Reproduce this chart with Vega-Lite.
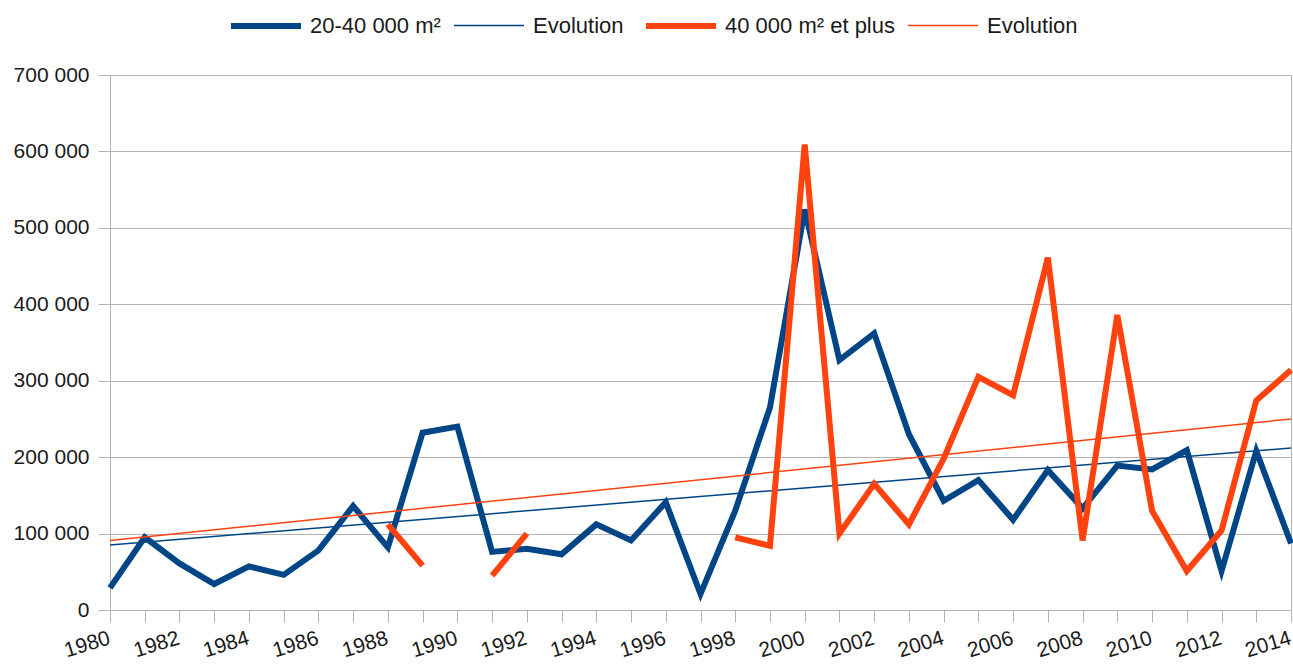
{
  "$schema": "https://vega.github.io/schema/vega-lite/v6.json",
  "width": 1181,
  "height": 535,
  "autosize": {"type": "none"},
  "padding": {"left": 110, "top": 75, "right": 2, "bottom": 54},
  "background": "white",
  "config": {
    "view": {"stroke": "#b3b3b3", "strokeWidth": 1},
    "font": "Liberation Sans",
    "axis": {
      "labelFont": "Liberation Sans",
      "labelFontSize": 21,
      "labelColor": "#1a1a1a",
      "domainColor": "#b3b3b3",
      "tickColor": "#b3b3b3",
      "gridColor": "#b3b3b3",
      "tickSize": 12,
      "title": null
    },
    "legend": {
      "orient": "none",
      "legendX": 118,
      "legendY": -87,
      "direction": "horizontal",
      "columns": 4,
      "padding": 0,
      "labelFont": "Liberation Sans",
      "labelFontSize": 22,
      "labelColor": "#1a1a1a",
      "labelOffset": 6,
      "columnPadding": 10,
      "symbolType": "stroke",
      "symbolSize": 4900,
      "labelLimit": 400,
      "title": null
    }
  },
  "data": {
    "values": [
      {"year": 1980, "series": "20-40 000 m²", "value": 29000},
      {"year": 1981, "series": "20-40 000 m²", "value": 95000},
      {"year": 1982, "series": "20-40 000 m²", "value": 61000},
      {"year": 1983, "series": "20-40 000 m²", "value": 34000},
      {"year": 1984, "series": "20-40 000 m²", "value": 57000},
      {"year": 1985, "series": "20-40 000 m²", "value": 46000},
      {"year": 1986, "series": "20-40 000 m²", "value": 78000},
      {"year": 1987, "series": "20-40 000 m²", "value": 136000},
      {"year": 1988, "series": "20-40 000 m²", "value": 82000},
      {"year": 1989, "series": "20-40 000 m²", "value": 232000},
      {"year": 1990, "series": "20-40 000 m²", "value": 240000},
      {"year": 1991, "series": "20-40 000 m²", "value": 76000},
      {"year": 1992, "series": "20-40 000 m²", "value": 80000},
      {"year": 1993, "series": "20-40 000 m²", "value": 73000},
      {"year": 1994, "series": "20-40 000 m²", "value": 112000},
      {"year": 1995, "series": "20-40 000 m²", "value": 91000},
      {"year": 1996, "series": "20-40 000 m²", "value": 141000},
      {"year": 1997, "series": "20-40 000 m²", "value": 21000},
      {"year": 1998, "series": "20-40 000 m²", "value": 130000},
      {"year": 1999, "series": "20-40 000 m²", "value": 265000},
      {"year": 2000, "series": "20-40 000 m²", "value": 524000},
      {"year": 2001, "series": "20-40 000 m²", "value": 327000},
      {"year": 2002, "series": "20-40 000 m²", "value": 362000},
      {"year": 2003, "series": "20-40 000 m²", "value": 230000},
      {"year": 2004, "series": "20-40 000 m²", "value": 143000},
      {"year": 2005, "series": "20-40 000 m²", "value": 170000},
      {"year": 2006, "series": "20-40 000 m²", "value": 118000},
      {"year": 2007, "series": "20-40 000 m²", "value": 183000},
      {"year": 2008, "series": "20-40 000 m²", "value": 133000},
      {"year": 2009, "series": "20-40 000 m²", "value": 189000},
      {"year": 2010, "series": "20-40 000 m²", "value": 184000},
      {"year": 2011, "series": "20-40 000 m²", "value": 209000},
      {"year": 2012, "series": "20-40 000 m²", "value": 51000},
      {"year": 2013, "series": "20-40 000 m²", "value": 208000},
      {"year": 2014, "series": "20-40 000 m²", "value": 87000},
      {"year": 1980, "series": "Evolution (20-40 000 m²)", "value": 85000},
      {"year": 2014, "series": "Evolution (20-40 000 m²)", "value": 212000},
      {"year": 1988, "series": "40 000 m² et plus", "value": 112000},
      {"year": 1989, "series": "40 000 m² et plus", "value": 58000},
      {"year": 1990, "series": "40 000 m² et plus", "value": null},
      {"year": 1991, "series": "40 000 m² et plus", "value": 45000},
      {"year": 1992, "series": "40 000 m² et plus", "value": 100000},
      {"year": 1993, "series": "40 000 m² et plus", "value": null},
      {"year": 1994, "series": "40 000 m² et plus", "value": null},
      {"year": 1995, "series": "40 000 m² et plus", "value": null},
      {"year": 1996, "series": "40 000 m² et plus", "value": null},
      {"year": 1997, "series": "40 000 m² et plus", "value": null},
      {"year": 1998, "series": "40 000 m² et plus", "value": 95000},
      {"year": 1999, "series": "40 000 m² et plus", "value": 84000},
      {"year": 2000, "series": "40 000 m² et plus", "value": 609000},
      {"year": 2001, "series": "40 000 m² et plus", "value": 100000},
      {"year": 2002, "series": "40 000 m² et plus", "value": 165000},
      {"year": 2003, "series": "40 000 m² et plus", "value": 112000},
      {"year": 2004, "series": "40 000 m² et plus", "value": 198000},
      {"year": 2005, "series": "40 000 m² et plus", "value": 305000},
      {"year": 2006, "series": "40 000 m² et plus", "value": 281000},
      {"year": 2007, "series": "40 000 m² et plus", "value": 461000},
      {"year": 2008, "series": "40 000 m² et plus", "value": 91000},
      {"year": 2009, "series": "40 000 m² et plus", "value": 386000},
      {"year": 2010, "series": "40 000 m² et plus", "value": 130000},
      {"year": 2011, "series": "40 000 m² et plus", "value": 51000},
      {"year": 2012, "series": "40 000 m² et plus", "value": 104000},
      {"year": 2013, "series": "40 000 m² et plus", "value": 274000},
      {"year": 2014, "series": "40 000 m² et plus", "value": 314000},
      {"year": 1980, "series": "Evolution (40 000 m² et plus)", "value": 91000},
      {"year": 2014, "series": "Evolution (40 000 m² et plus)", "value": 250000}
    ]
  },
  "mark": {"type": "line", "invalid": "break-paths-show-domains", "strokeJoin": "miter", "strokeCap": "butt"},
  "encoding": {
    "x": {
      "field": "year",
      "type": "quantitative",
      "scale": {"domain": [1980, 2014], "nice": false, "zero": false},
      "axis": {
        "values": [1980,1981,1982,1983,1984,1985,1986,1987,1988,1989,1990,1991,1992,1993,1994,1995,1996,1997,1998,1999,2000,2001,2002,2003,2004,2005,2006,2007,2008,2009,2010,2011,2012,2013,2014],
        "labelExpr": "datum.value % 2 == 0 ? format(datum.value, 'd') : ''",
        "labelAngle": -17,
        "labelAlign": "right",
        "labelBaseline": "top",
        "labelPadding": 5,
        "labelOffset": -4,
        "labelOverlap": false,
        "labelFlush": false,
        "grid": false
      }
    },
    "y": {
      "field": "value",
      "type": "quantitative",
      "scale": {"domain": [0, 700000], "nice": false},
      "axis": {
        "values": [0, 100000, 200000, 300000, 400000, 500000, 600000, 700000],
        "labelExpr": "datum.value == 0 ? '0' : format(datum.value / 1000, 'd') + ' 000'",
        "labelPadding": 9,
        "grid": true
      }
    },
    "color": {
      "field": "series",
      "type": "nominal",
      "scale": {
        "domain": ["20-40 000 m²", "Evolution (20-40 000 m²)", "40 000 m² et plus", "Evolution (40 000 m² et plus)"],
        "range": ["#004586", "#004586", "#ff420e", "#ff420e"]
      },
      "legend": {"labelExpr": "indexof(datum.label, 'Evolution') == 0 ? 'Evolution' : datum.label"}
    },
    "strokeWidth": {
      "field": "series",
      "type": "nominal",
      "scale": {
        "type": "ordinal",
        "domain": ["20-40 000 m²", "Evolution (20-40 000 m²)", "40 000 m² et plus", "Evolution (40 000 m² et plus)"],
        "range": [6, 1.5, 6, 1.5]
      },
      "legend": {"labelExpr": "indexof(datum.label, 'Evolution') == 0 ? 'Evolution' : datum.label"}
    }
  }
}
